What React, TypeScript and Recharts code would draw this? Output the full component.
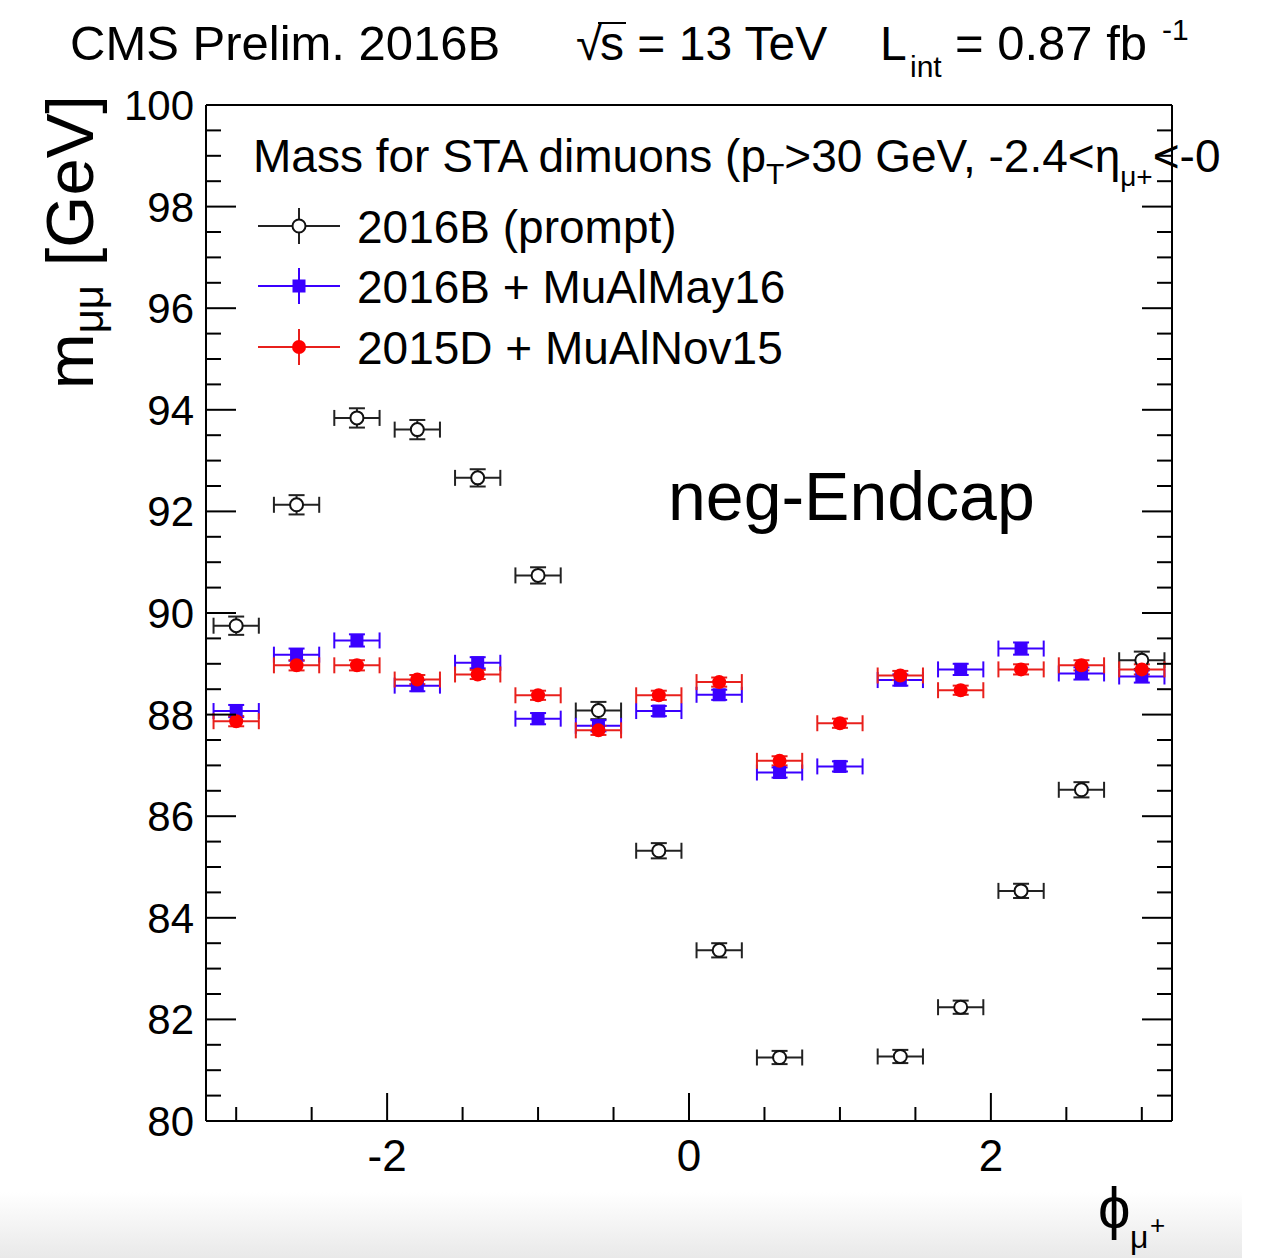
import React from 'react';
import { ScatterChart, Scatter, XAxis, YAxis, ErrorBar } from 'recharts';

// bin centres in phi(mu+), half bin width drawn as x error
const phiBins = [-3.0, -2.6, -2.2, -1.8, -1.4, -1.0, -0.6, -0.2, 0.2, 0.6, 1.0, 1.4, 1.8, 2.2, 2.6, 3.0];
const phiHalfWidth = 0.15;

// 2016B (prompt) - the 1.0 bin is below the plotted range
const massPrompt = [89.75, 92.13, 93.84, 93.61, 92.66, 90.74, 88.08, 85.32, 83.36, 81.25, null, 81.27, 82.24, 84.53, 86.52, 89.07];
const errPrompt = [0.18, 0.19, 0.19, 0.19, 0.17, 0.16, 0.17, 0.15, 0.14, 0.13, null, 0.13, 0.13, 0.14, 0.15, 0.17];

// 2016B + MuAlMay16
const massMay16 = [88.07, 89.18, 89.46, 88.57, 89.02, 87.92, 87.78, 88.07, 88.39, 86.86, 86.98, 88.68, 88.89, 89.3, 88.81, 88.75];
const errMay16 = [0.12, 0.12, 0.12, 0.11, 0.11, 0.11, 0.11, 0.1, 0.1, 0.1, 0.1, 0.11, 0.11, 0.12, 0.12, 0.12];

// 2015D + MuAlNov15
const massNov15 = [87.87, 88.97, 88.97, 88.69, 88.79, 88.38, 87.69, 88.38, 88.64, 87.09, 87.83, 88.77, 88.48, 88.89, 88.97, 88.89];
const errNov15 = [0.1, 0.1, 0.1, 0.09, 0.09, 0.09, 0.09, 0.09, 0.09, 0.09, 0.09, 0.09, 0.09, 0.1, 0.1, 0.1];

const xTicks = [-3, -2.5, -2, -1.5, -1, -0.5, 0, 0.5, 1, 1.5, 2, 2.5, 3];
const xLabels = [-2, 0, 2];
const yLabels = [80, 82, 84, 86, 88, 90, 92, 94, 96, 98, 100];
const yTicks = yLabels.flatMap((v) => (v < 100 ? [v, v + 0.5, v + 1, v + 1.5] : [v]));

const FONT = '"Liberation Sans", Arial, Helvetica, sans-serif';
const BLUE = '#3a00ff';
const RED = '#ff0000';

const toPoints = (mass: (number | null)[], err: (number | null)[]) =>
  phiBins
    .map((x, i) => ({ x, y: mass[i], ey: err[i], ex: phiHalfWidth }))
    .filter((p) => p.y !== null);

const promptData = toPoints(massPrompt, errPrompt);
const may16Data = toPoints(massMay16, errMay16);
const nov15Data = toPoints(massNov15, errNov15);

const BottomTick = (props: any) => {
  const { x, y, payload } = props;
  const major = xLabels.includes(payload.value);
  return (
    <g>
      <line x1={x} x2={x} y1={y} y2={y - (major ? 28 : 14)} stroke="#000" strokeWidth={2} />
      {major && (
        <text x={x} y={y + 50} textAnchor="middle" fontSize={44} fontFamily={FONT} fill="#000">
          {payload.value}
        </text>
      )}
    </g>
  );
};

const TopTick = (props: any) => {
  const { x, y, payload } = props;
  const major = xLabels.includes(payload.value);
  return <line x1={x} x2={x} y1={y} y2={y + (major ? 28 : 14)} stroke="#000" strokeWidth={2} />;
};

const LeftTick = (props: any) => {
  const { x, y, payload } = props;
  const major = yLabels.includes(payload.value);
  return (
    <g>
      <line x1={x} x2={x + (major ? 30 : 15)} y1={y} y2={y} stroke="#000" strokeWidth={2} />
      {major && (
        <text x={x - 12} y={y + 15} textAnchor="end" fontSize={42} fontFamily={FONT} fill="#000">
          {payload.value}
        </text>
      )}
    </g>
  );
};

const RightTick = (props: any) => {
  const { x, y, payload } = props;
  const major = yLabels.includes(payload.value);
  return <line x1={x} x2={x - (major ? 30 : 15)} y1={y} y2={y} stroke="#000" strokeWidth={2} />;
};

const OpenCircle = (props: any) => (
  <circle cx={props.cx} cy={props.cy} r={6.5} fill="#fff" stroke="#111" strokeWidth={2} />
);
const BlueSquare = (props: any) => (
  <rect x={props.cx - 6.5} y={props.cy - 6.5} width={13} height={13} fill={BLUE} />
);
const RedDot = (props: any) => <circle cx={props.cx} cy={props.cy} r={7} fill={RED} />;

const axisLine = { stroke: '#000', strokeWidth: 2 };

export default function App() {
  return (
    <div style={{ position: 'absolute', left: 0, top: 0, width: 1264, height: 1258, background: '#fff' }}>
      <div style={{ position: 'absolute', left: 0, top: 0 }}>
        <ScatterChart width={1264} height={1258} margin={{ top: 104, right: 91, bottom: 136, left: 205 }}>
          <XAxis
            xAxisId={0}
            type="number"
            dataKey="x"
            domain={[-3.2, 3.2]}
            allowDataOverflow
            ticks={xTicks}
            interval={0}
            height={1}
            tickSize={0}
            tickMargin={0}
            tickLine={false}
            tick={<BottomTick />}
            axisLine={axisLine}
          />
          <XAxis
            xAxisId="top"
            orientation="top"
            type="number"
            domain={[-3.2, 3.2]}
            allowDataOverflow
            ticks={xTicks}
            interval={0}
            height={1}
            tickSize={0}
            tickMargin={0}
            tickLine={false}
            tick={<TopTick />}
            axisLine={axisLine}
          />
          <YAxis
            yAxisId={0}
            type="number"
            dataKey="y"
            domain={[80, 100]}
            allowDataOverflow
            ticks={yTicks}
            interval={0}
            width={1}
            tickSize={0}
            tickMargin={0}
            tickLine={false}
            tick={<LeftTick />}
            axisLine={axisLine}
          />
          <YAxis
            yAxisId="right"
            orientation="right"
            type="number"
            domain={[80, 100]}
            allowDataOverflow
            ticks={yTicks}
            interval={0}
            width={1}
            tickSize={0}
            tickMargin={0}
            tickLine={false}
            tick={<RightTick />}
            axisLine={axisLine}
          />
          <Scatter data={promptData} name="2016B (prompt)" shape={<OpenCircle />} isAnimationActive={false}>
            <ErrorBar dataKey="ex" direction="x" width={8} stroke="#222" strokeWidth={2} isAnimationActive={false} />
            <ErrorBar dataKey="ey" direction="y" width={8} stroke="#222" strokeWidth={2} isAnimationActive={false} />
          </Scatter>
          <Scatter data={may16Data} name="2016B + MuAlMay16" shape={<BlueSquare />} isAnimationActive={false}>
            <ErrorBar dataKey="ex" direction="x" width={8} stroke={BLUE} strokeWidth={2} isAnimationActive={false} />
            <ErrorBar dataKey="ey" direction="y" width={8} stroke={BLUE} strokeWidth={2} isAnimationActive={false} />
          </Scatter>
          <Scatter data={nov15Data} name="2015D + MuAlNov15" shape={<RedDot />} isAnimationActive={false}>
            <ErrorBar dataKey="ex" direction="x" width={8} stroke="#e8201c" strokeWidth={2} isAnimationActive={false} />
            <ErrorBar dataKey="ey" direction="y" width={8} stroke="#e8201c" strokeWidth={2} isAnimationActive={false} />
          </Scatter>
        </ScatterChart>
      </div>

      <svg
        width={1264}
        height={1258}
        style={{ position: 'absolute', left: 0, top: 0, pointerEvents: 'none' }}
        fontFamily={FONT}
      >
        <defs>
          <linearGradient id="band" x1="0" y1="0" x2="0" y2="1">
            <stop offset="0%" stopColor="#ffffff" />
            <stop offset="100%" stopColor="#e9e9e9" />
          </linearGradient>
        </defs>

        {/* window strip at the bottom of the screenshot */}
        <rect x={0} y={1192} width={1242} height={66} fill="url(#band)" />

        {/* top title */}
        <text x={70} y={60} fontSize={49} fill="#000">CMS Prelim. 2016B</text>
        <text x={576} y={60} fontSize={48} fill="#000">√</text>
        <line x1={598} x2={626} y1={23} y2={23} stroke="#000" strokeWidth={2} />
        <text x={600} y={60} fontSize={48} fill="#000">s = 13 TeV</text>
        <text x={880} y={60} fontSize={48} fill="#000">L</text>
        <text x={910} y={77} fontSize={30} fill="#000">int</text>
        <text x={955} y={60} fontSize={49} fill="#000">= 0.87 fb</text>
        <text x={1162} y={40} fontSize={30} fill="#000">-1</text>

        {/* legend header (runs past the frame, as in the original) */}
        <text x={253} y={172} fontSize={46} fill="#000">
          Mass for STA dimuons (p
          <tspan fontSize={30} dy={12}>T</tspan>
          <tspan dy={-12}>&gt;30 GeV, -2.4&lt;η</tspan>
          <tspan fontSize={28} dy={14}>μ+</tspan>
          <tspan dy={-14}>&lt;-0</tspan>
        </text>

        {/* legend entries */}
        <g>
          <line x1={258} x2={340} y1={226} y2={226} stroke="#222" strokeWidth={2} />
          <line x1={299} x2={299} y1={208} y2={244} stroke="#222" strokeWidth={2} />
          <circle cx={299} cy={226} r={6.5} fill="#fff" stroke="#111" strokeWidth={2} />
          <text x={357} y={243} fontSize={46} fill="#000">2016B (prompt)</text>

          <line x1={258} x2={340} y1={286} y2={286} stroke={BLUE} strokeWidth={2} />
          <line x1={299} x2={299} y1={268} y2={304} stroke={BLUE} strokeWidth={2} />
          <rect x={292.5} y={279.5} width={13} height={13} fill={BLUE} />
          <text x={357} y={303} fontSize={46} fill="#000">2016B + MuAlMay16</text>

          <line x1={258} x2={340} y1={347} y2={347} stroke="#e8201c" strokeWidth={2} />
          <line x1={299} x2={299} y1={329} y2={365} stroke="#e8201c" strokeWidth={2} />
          <circle cx={299} cy={347} r={7} fill={RED} />
          <text x={357} y={364} fontSize={46} fill="#000">2015D + MuAlNov15</text>
        </g>

        <text x={668} y={520} fontSize={68} fill="#000">neg-Endcap</text>

        {/* y axis title */}
        <text
          transform="translate(93, 95) rotate(-90)"
          x={0}
          y={0}
          textAnchor="end"
          fontSize={67}
          fill="#000"
        >
          m<tspan fontSize={42} dy={10}>μμ</tspan>
          <tspan dy={-10}> [GeV]</tspan>
        </text>

        {/* x axis title */}
        <text x={1098} y={1228} fontSize={58} fill="#000">ϕ</text>
        <text x={1130} y={1248} fontSize={32} fill="#000">μ</text>
        <text x={1150} y={1234} fontSize={26} fill="#000">+</text>
      </svg>
    </div>
  );
}
